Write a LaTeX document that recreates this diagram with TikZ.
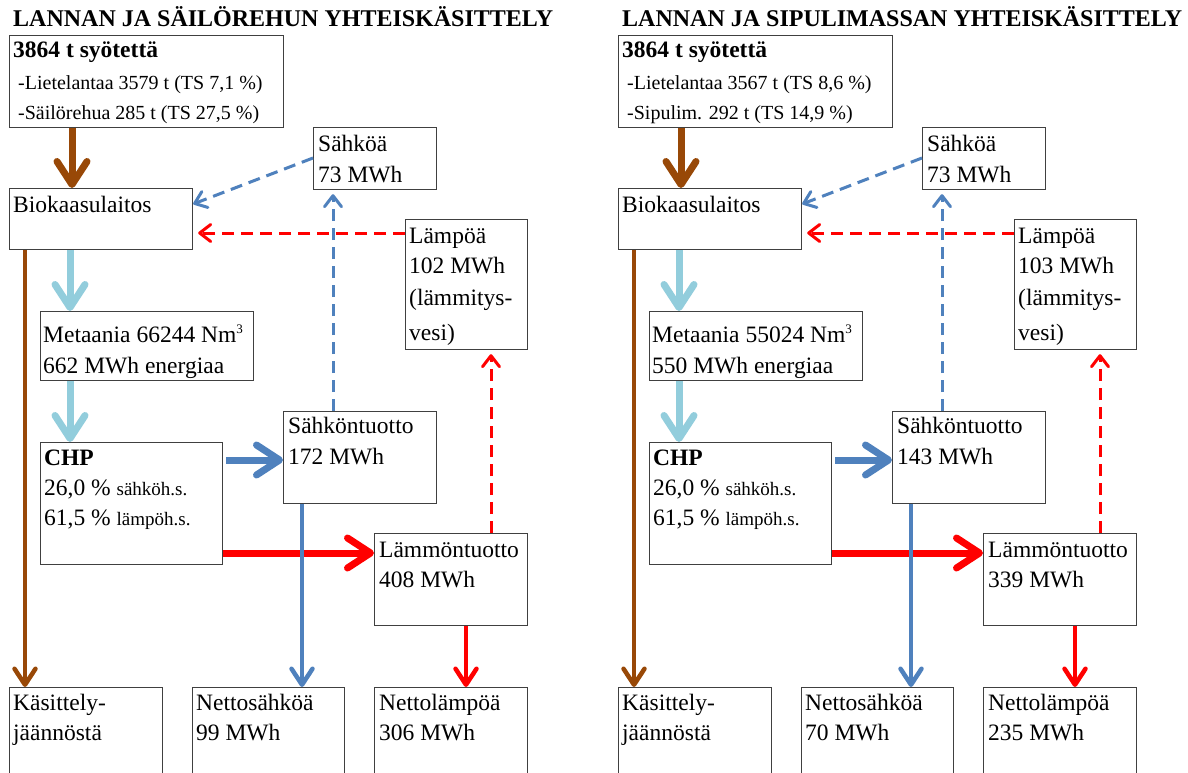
\documentclass[tikz,border=0pt]{standalone}
\usepackage{fontspec}
\setmainfont{Liberation Serif}
\usetikzlibrary{arrows.meta,calc}
\definecolor{cbrown}{HTML}{984807}
\definecolor{clblue}{HTML}{92CDDC}
\definecolor{cblue}{HTML}{4F81BD}
\definecolor{cred}{HTML}{FF0000}
\definecolor{cbox}{HTML}{404040}
\newcommand\mainf{\fontsize{23.5}{28}\selectfont}
\newcommand\feedf{\fontsize{20}{24}\selectfont}
\newcommand\fsmall{\fontsize{19}{22}\selectfont}
\newcommand\supthree{\raisebox{9pt}{\fontsize{13}{13}\selectfont 3}}
\tikzset{
  box/.style={draw=cbox, line width=1.2pt, rectangle, inner sep=0pt, anchor=north west},
  txt/.style={anchor=base west, inner sep=0pt, font=\mainf},
  bigarrow/.style={line width=7pt, -{Straight Barb[length=23pt,width=30pt,round]}},
  midarrow/.style={line width=4.5pt, -{Straight Barb[length=16pt,width=21pt,round]}},
  dasharrow/.style={line width=3pt, dash pattern=on 12pt off 7pt, -{Straight Barb[length=11pt,width=17pt,round]}},
}
% box: name, x, y, width, height
\newcommand\bx[5]{\node[box, minimum width=#4pt, minimum height=#5pt] (#1) at (#2,#3) {};}
% text line: name, x, y, text
\newcommand\tx[4]{\node[txt] (#1) at (#2,#3) {#4};}
\newcommand\panel[1]{%
  \tx{#1title}{13}{27}{\bfseries\fontsize{24}{28}\selectfont\ttl}
  \bx{#1feed}{9}{35}{274}{92}
  \bx{#1bio}{9}{188}{183}{61}
  \bx{#1sah}{313}{127}{123}{62}
  \bx{#1lamp}{405}{219}{122}{130}
  \bx{#1meta}{40}{311}{213}{69}
  \bx{#1chp}{40}{442}{182}{122}
  \bx{#1sahk}{283}{411}{153}{92}
  \bx{#1lamt}{374}{533}{153}{92}
  \bx{#1kas}{9}{687}{153}{120}
  \bx{#1nets}{192}{687}{152}{120}
  \bx{#1netl}{374}{687}{153}{120}
  % texts
  \tx{#1fa}{13}{58}{\bfseries 3864 t syötettä}
  \tx{#1fb}{18}{90}{\feedf\feedb}
  \tx{#1fc}{18}{120}{\feedf\feedc}
  \tx{#1bioa}{13}{212}{Biokaasulaitos}
  \tx{#1saha}{318}{151}{Sähköä}
  \tx{#1sahb}{318}{182}{73 MWh}
  \tx{#1lampa}{409}{243}{Lämpöä}
  \tx{#1lampb}{409}{273}{\lampv\ MWh}
  \tx{#1lampc}{409}{305}{(lämmitys-}
  \tx{#1lampd}{409}{340}{vesi)}
  \tx{#1metaa}{43}{342}{Metaania \metav\ Nm\supthree}
  \tx{#1metab}{43}{373}{\energv\ MWh energiaa}
  \tx{#1chpa}{44}{465}{\bfseries CHP}
  \tx{#1chpb}{44}{495}{26,0 \% {\fsmall sähköh.s.}}
  \tx{#1chpc}{44}{525}{61,5 \% {\fsmall lämpöh.s.}}
  \tx{#1sahka}{288}{433}{Sähköntuotto}
  \tx{#1sahkb}{288}{464}{\sahkv\ MWh}
  \tx{#1lamta}{379}{557}{Lämmöntuotto}
  \tx{#1lamtb}{379}{587}{\lamtv\ MWh}
  \tx{#1kasa}{13}{710}{Käsittely-}
  \tx{#1kasb}{13}{740}{jäännöstä}
  \tx{#1netsa}{196}{710}{Nettosähköä}
  \tx{#1netsb}{196}{740}{\netsv\ MWh}
  \tx{#1netla}{379}{710}{Nettolämpöä}
  \tx{#1netlb}{379}{740}{\netlv\ MWh}
  % connectors
  \draw[bigarrow, cbrown] ($(#1feed.south west)+(63,0)$) -- ($(#1bio.north west)+(63,0)$);
  \draw[midarrow, cbrown] ($(#1bio.south west)+(16,0)$) -- ($(#1kas.north west)+(16,0)$);
  \draw[bigarrow, clblue] ($(#1bio.south west)+(61,0)$) -- ($(#1meta.north west)+(30,0)$);
  \draw[bigarrow, clblue] ($(#1meta.south west)+(30,0)$) -- ($(#1chp.north west)+(30,0)$);
  \draw[bigarrow, cblue] ($(#1chp.north east)+(3,18)$) -- ($(#1sahk.north west)+(0,49)$);
  \draw[bigarrow, cred] ($(#1chp.north east)+(0,111)$) -- ($(#1lamt.north west)+(0,20)$);
  \draw[midarrow, cblue] ($(#1sahk.south west)+(19,0)$) -- ($(#1nets.north west)+(110,0)$);
  \draw[midarrow, cred] ($(#1lamt.south west)+(92,0)$) -- ($(#1netl.north west)+(92,0)$);
  \draw[dasharrow, cblue] ($(#1sah.north west)+(0,31)$) -- ($(#1bio.north east)+(0,16)$);
  \draw[dasharrow, cblue] ($(#1sahk.north west)+(50,0)$) -- ($(#1sah.south west)+(20,4)$);
  \draw[dasharrow, cred] ($(#1lamp.north west)+(0,14)$) -- ($(#1bio.north east)+(5,45)$);
  \draw[dasharrow, cred] ($(#1lamt.north west)+(117,0)$) -- ($(#1lamp.south west)+(86,4)$);
}
\begin{document}
\begin{tikzpicture}[x=1pt, y=-1pt]
\useasboundingbox (0,0) rectangle (1188,773);
\fill[white] (0,0) rectangle (1188,773);
\clip (0,0) rectangle (1188,773);
\def\ttl{LANNAN JA SÄILÖREHUN YHTEISKÄSITTELY}
\def\feedb{-Lietelantaa 3579 t (TS 7,1 \%)}
\def\feedc{-Säilörehua 285 t (TS 27,5 \%)}
\def\lampv{102}
\def\metav{66244}
\def\energv{662}
\def\sahkv{172}
\def\lamtv{408}
\def\netsv{99}
\def\netlv{306}
\begin{scope}
\panel{L}
\end{scope}
\def\ttl{LANNAN JA SIPULIMASSAN YHTEISKÄSITTELY}
\def\feedb{-Lietelantaa 3567 t (TS 8,6 \%)}
\def\feedc{-Sipulim. 292 t (TS 14,9 \%)}
\def\lampv{103}
\def\metav{55024}
\def\energv{550}
\def\sahkv{143}
\def\lamtv{339}
\def\netsv{70}
\def\netlv{235}
\begin{scope}[xshift=609pt]
\panel{R}
\end{scope}
\end{tikzpicture}
\end{document}
